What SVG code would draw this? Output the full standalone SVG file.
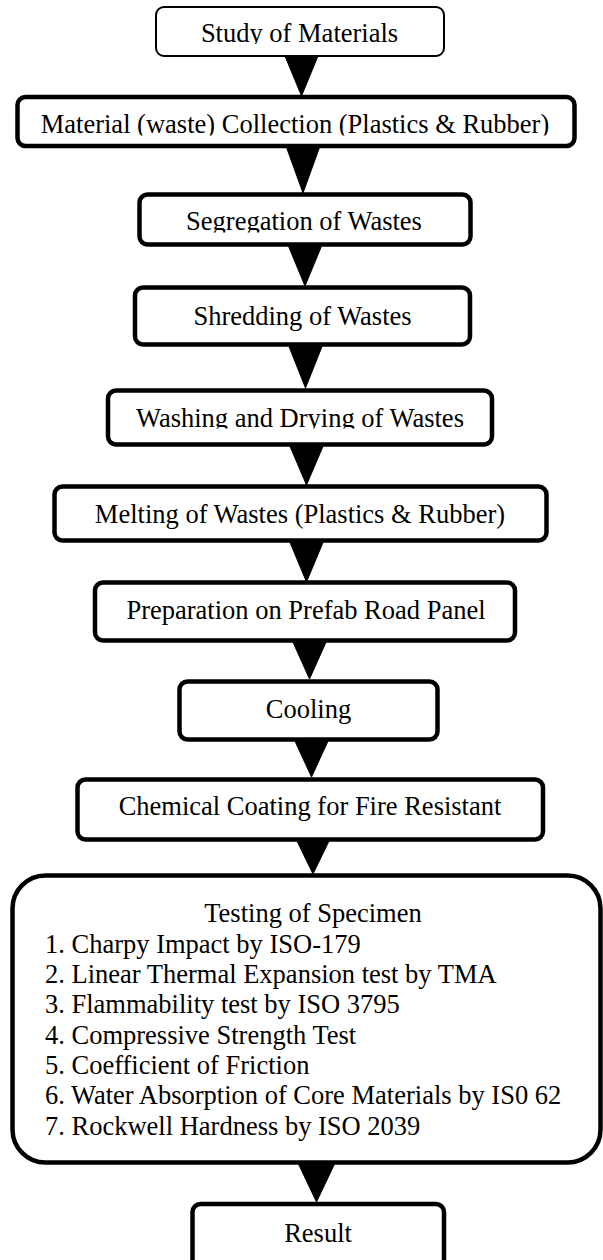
<svg xmlns="http://www.w3.org/2000/svg" width="603" height="1260" viewBox="0 0 603 1260">
<style>
  .box { fill: #ffffff; stroke: #000000; stroke-width: 4.5; }
  .thin { stroke-width: 2; }
  .lbl { font-family: "Liberation Serif", "Times New Roman", serif; font-size: 26.5px; fill: #000000; text-anchor: middle; }
  .item { font-family: "Liberation Serif", "Times New Roman", serif; font-size: 26.5px; fill: #000000; }
  .arr { fill: #000000; stroke: #000000; stroke-width: 1; stroke-linejoin: round; }
</style>
<defs>
  <clipPath id="c1"><rect x="0" y="0" width="603" height="44"/></clipPath>
  <clipPath id="c2"><rect x="0" y="100" width="603" height="35.5"/></clipPath>
  <clipPath id="c3"><rect x="0" y="197" width="603" height="35.5"/></clipPath>
  <clipPath id="c5"><rect x="0" y="393" width="603" height="35.5"/></clipPath>
</defs>
<rect width="603" height="1260" fill="#ffffff"/>

<g id="connectors">
  <polygon class="arr" points="285,56 318,56 301.5,96"/>
  <polygon class="arr" points="286,146 320,146 303,193"/>
  <polygon class="arr" points="288,245 322,245 305,286"/>
  <polygon class="arr" points="288,344 323,344 305.5,388"/>
  <polygon class="arr" points="289,444 324,444 306.5,485"/>
  <polygon class="arr" points="289,540 324,540 306.5,582"/>
  <polygon class="arr" points="292,640 327,640 309.5,679"/>
  <polygon class="arr" points="294,739 329,739 311.5,777"/>
  <polygon class="arr" points="296,839 330,839 313,874"/>
  <polygon class="arr" points="298,1163 335,1163 316.5,1202"/>
</g>

<g id="n1">
  <rect class="box thin" x="156" y="7" width="288" height="49" rx="8"/>
  <text class="lbl" x="299.5" y="42" clip-path="url(#c1)">Study of Materials</text>
</g>
<g id="n2">
  <rect class="box" x="17.5" y="97" width="557" height="49" rx="8"/>
  <text class="lbl" x="295" y="133" clip-path="url(#c2)">Material (waste) Collection (Plastics &amp; Rubber)</text>
</g>
<g id="n3">
  <rect class="box" x="139.5" y="194.5" width="331" height="50" rx="8"/>
  <text class="lbl" x="304" y="230" clip-path="url(#c3)">Segregation of Wastes</text>
</g>
<g id="n4">
  <rect class="box" x="135" y="287.5" width="335" height="57" rx="8"/>
  <text class="lbl" x="302.5" y="325">Shredding of Wastes</text>
</g>
<g id="n5">
  <rect class="box" x="108" y="390.5" width="384" height="54" rx="8"/>
  <text class="lbl" x="300" y="427" clip-path="url(#c5)">Washing and Drying of Wastes</text>
</g>
<g id="n6">
  <rect class="box" x="54.5" y="486.5" width="492" height="54" rx="8"/>
  <text class="lbl" x="300" y="523">Melting of Wastes (Plastics &amp; Rubber)</text>
</g>
<g id="n7">
  <rect class="box" x="95" y="582.5" width="420" height="58" rx="8"/>
  <text class="lbl" x="306" y="619">Preparation on Prefab Road Panel</text>
</g>
<g id="n8">
  <rect class="box" x="179.5" y="681.5" width="258" height="58" rx="8"/>
  <text class="lbl" x="308.5" y="718">Cooling</text>
</g>
<g id="n9">
  <rect class="box" x="77.5" y="779.5" width="465.5" height="60" rx="8"/>
  <text class="lbl" x="310" y="815">Chemical Coating for Fire Resistant</text>
</g>
<g id="n10">
  <rect class="box" x="12.5" y="875.5" width="588" height="287" rx="33"/>
  <text class="lbl" x="313" y="922">Testing of Specimen</text>
  <text class="item" x="45" y="953">1. Charpy Impact by ISO-179</text>
  <text class="item" x="45" y="983">2. Linear Thermal Expansion test by TMA</text>
  <text class="item" x="45" y="1013">3. Flammability test by ISO 3795</text>
  <text class="item" x="45" y="1044">4. Compressive Strength Test</text>
  <text class="item" x="45" y="1074">5. Coefficient of Friction</text>
  <text class="item" x="45" y="1104">6. Water Absorption of Core Materials by IS0 62</text>
  <text class="item" x="45" y="1135">7. Rockwell Hardness by ISO 2039</text>
</g>
<g id="n11">
  <rect class="box" x="192.5" y="1204" width="251.5" height="75" rx="8"/>
  <text class="lbl" x="318" y="1242">Result</text>
</g>
</svg>
